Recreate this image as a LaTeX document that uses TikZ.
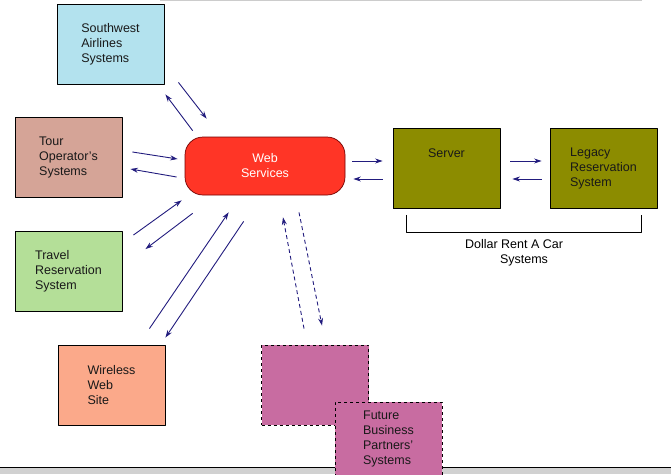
\documentclass[tikz,border=0pt]{standalone}
\usepackage{fontspec}
\setmainfont{Liberation Sans}
\usetikzlibrary{arrows.meta}
\definecolor{swblue}{HTML}{B3E2EE}
\definecolor{tourrose}{HTML}{D5A497}
\definecolor{travelgreen}{HTML}{B4DF98}
\definecolor{wlsalmon}{HTML}{FBA98A}
\definecolor{dolive}{HTML}{8C8C00}
\definecolor{futpink}{HTML}{C86CA1}
\definecolor{wsred}{HTML}{FF3526}
\definecolor{arrnavy}{HTML}{221C7E}
\begin{document}
\begin{tikzpicture}[x=1pt, y=-1pt, font=\fontsize{12.5}{15}\selectfont, line join=round, >={Stealth[length=7.5pt, width=5pt]},
	hop/.style={draw=black, line width=0.9pt, minimum width=107pt, minimum height=80pt, inner sep=0pt, align=left, text=black!90},
	mui/.style={->, draw=arrnavy, line width=0.9pt},
	muidut/.style={mui, dash pattern=on 4pt off 3pt}]
		
		% Khung hình và các đường viền trang
		\clip (0,0) rectangle (671,474);
		\draw[black!20, line width=1pt] (160,0.5) -- (642,0.5);
		\fill[black!18] (0,467) rectangle (671,474);
		\draw[black, line width=0.9pt] (0,467) -- (671,467);
		
		% Các hệ thống bên ngoài
		\node[hop, fill=swblue] (sw) at (110.5,44) {Southwest\\Airlines\\Systems};
		\node[hop, fill=tourrose] (tour) at (68.5,157.5) {Tour\\Operator's\\Systems};
		\node[hop, fill=travelgreen] (travel) at (68.5,271.5) {Travel\\Reservation\\System};
		\node[hop, fill=wlsalmon] (wl) at (111.5,385) {Wireless\\Web\\Site};
		
		% Web Services ở giữa
		\node[draw=red!45!black, line width=0.7pt, fill=wsred, rounded corners=18pt, minimum width=160pt, minimum height=58pt, inner sep=0pt, align=center, text=white] (ws) at (265,166) {Web\\Services};
		
		% Các hệ thống Dollar Rent A Car
		\node[hop, fill=dolive, label={[anchor=north, yshift=-17pt, text=black!90]north:Server}] (srv) at (446.5,168.5) {};
		\node[hop, fill=dolive] (leg) at (603.5,168.5) {Legacy\\Reservation\\System};
		\draw[line width=0.9pt] ([shift={(14,6)}]srv.south west) -- ++(0,17) -| ([shift={(-16,6)}]leg.south east);
		\node[align=center, inner sep=0pt] (dol) at (514,253) {Dollar Rent A Car\\\hspace*{20pt}Systems};
		
		% Đối tác tương lai (khung đứt nét)
		\node[hop, dashed, fill=futpink] (fb1) at (315,385) {};
		\node[hop, dashed, fill=futpink, minimum height=74pt] (fb2) at (388.5,439) {Future\\Business\\Partners'\\Systems};
		
		% Mũi tên hai chiều
		\draw[mui] ([shift={(14,-2)}]sw.south east) -- ([shift={(22,-18)}]ws.north west);
		\draw[mui] ([shift={(8,-6)}]ws.north west) -- ([shift={(1,10)}]sw.south east);
		\draw[mui] ([shift={(10,-5.5)}]tour.east) -- ([shift={(-7,-7)}]ws.west);
		\draw[mui] ([shift={(-8,11)}]ws.west) -- ([shift={(8,11.5)}]tour.east);
		\draw[mui] ([shift={(11,4)}]travel.north east) -- ([shift={(-3,5)}]ws.south west);
		\draw[mui] ([shift={(8,18)}]ws.south west) -- ([shift={(23,18)}]travel.north east);
		\draw[mui] ([shift={(-16,-16)}]wl.north east) -- ([shift={(44,17)}]ws.south west);
		\draw[mui] ([shift={(59,26)}]ws.south west) -- ([shift={(0,-7)}]wl.north east);
		\draw[muidut] ([shift={(-11,-16)}]fb1.north) -- ([shift={(18,22)}]ws.south);
		\draw[muidut] ([shift={(34,17)}]ws.south) -- ([shift={(7,-19)}]fb1.north);
		\draw[mui] ([shift={(7,-5)}]ws.east) -- ([shift={(-10,-7.5)}]srv.west);
		\draw[mui] ([shift={(-10,10.5)}]srv.west) -- ([shift={(8,13)}]ws.east);
		\draw[mui] ([shift={(10,-7.5)}]srv.east) -- ([shift={(-8,-7.5)}]leg.west);
		\draw[mui] ([shift={(-8,10.5)}]leg.west) -- ([shift={(12,10.5)}]srv.east);
		
\end{tikzpicture}
\end{document}
